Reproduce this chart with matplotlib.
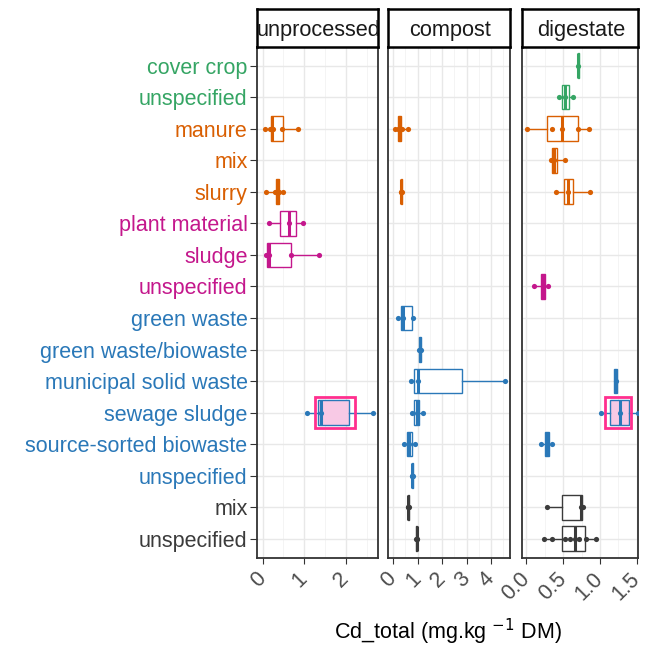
import numpy as np
import matplotlib.pyplot as plt
from matplotlib.patches import Rectangle

plt.rcParams['font.family'] = ['Liberation Sans', 'DejaVu Sans']

#===========================================================#

### Data (rows counted from the top, 1..16)

labels = ["cover crop", "unspecified", "manure", "mix", "slurry",
          "plant material", "sludge", "unspecified", "green waste",
          "green waste/biowaste", "municipal solid waste", "sewage sludge",
          "source-sorted biowaste", "unspecified", "mix", "unspecified"]
groups = ["green", "green", "orange", "orange", "orange",
          "magenta", "magenta", "magenta", "blue",
          "blue", "blue", "blue", "blue", "blue", "black", "black"]
palette = {"green": "#35a564", "orange": "#d95f02", "magenta": "#c4178c",
           "blue": "#2a78b8", "black": "#3b3b3b"}

## unprocessed
unproc_rows = [3, 5, 6, 7, 12]
unproc_q1 = [0.19, 0.33, 0.41, 0.10, 1.33]
unproc_med = [0.22, 0.36, 0.63, 0.14, 1.41]
unproc_q3 = [0.49, 0.40, 0.81, 0.67, 2.07]
unproc_pts = [[0.05, 0.18, 0.22, 0.24, 0.46, 0.84],
              [0.09, 0.29, 0.33, 0.36, 0.40, 0.49],
              [0.15, 0.63, 0.97],
              [0.09, 0.12, 0.15, 0.67, 1.36],
              [1.07, 1.41, 2.66]]

## compost
comp_rows = [3, 5, 9, 10, 11, 12, 13, 14, 15, 16]
comp_q1 = [0.20, 0.32, 0.30, 1.06, 0.86, 0.86, 0.57, 0.76, 0.59, 0.94]
comp_med = [0.27, 0.34, 0.41, 1.09, 1.00, 0.96, 0.66, 0.78, 0.61, 0.96]
comp_q3 = [0.33, 0.36, 0.75, 1.12, 2.80, 1.07, 0.78, 0.80, 0.63, 0.98]
comp_pts = [[0.08, 0.18, 0.27, 0.35, 0.60],
            [0.32, 0.34, 0.36],
            [0.20, 0.41, 0.82],
            [1.06, 1.09, 1.12],
            [0.73, 1.00, 4.58],
            [0.78, 0.96, 1.23],
            [0.45, 0.66, 0.89],
            [0.76, 0.78, 0.80],
            [0.59, 0.61, 0.63],
            [0.94, 0.96, 0.98]]

## digestate
dig_rows = [1, 2, 3, 4, 5, 8, 11, 12, 13, 15, 16]
dig_q1 = [0.70, 0.48, 0.28, 0.355, 0.51, 0.20, 1.19, 1.14, 0.25, 0.49, 0.48]
dig_med = [0.705, 0.53, 0.49, 0.38, 0.57, 0.23, 1.21, 1.27, 0.28, 0.74, 0.66]
dig_q3 = [0.71, 0.58, 0.70, 0.42, 0.64, 0.26, 1.23, 1.39, 0.31, 0.75, 0.795]
dig_pts = [[0.705],
           [0.45, 0.53, 0.63],
           [0.01, 0.35, 0.49, 0.70, 0.85],
           [0.33, 0.38, 0.53],
           [0.40, 0.57, 0.86],
           [0.11, 0.23, 0.29],
           [1.21],
           [1.02, 1.27, 1.51],
           [0.20, 0.28, 0.35],
           [0.28, 0.74, 0.77],
           [0.24, 0.35, 0.53, 0.59, 0.66, 0.72, 0.81, 0.94]]

panel_names = ["unprocessed", "compost", "digestate"]
panel_xlim = [(-0.13, 2.78), (-0.2, 4.78), (-0.06, 1.51)]
panel_ticks = [[0, 1, 2], [0, 1, 2, 3, 4], [0.0, 0.5, 1.0, 1.5]]
panel_ticklabels = [["0", "1", "2"], ["0", "1", "2", "3", "4"],
                    ["0.0", "0.5", "1.0", "1.5"]]

# pink marker drawn round the sewage sludge boxes (panel -> x extent)
highlight_row = 12
highlight_x = {0: (1.25, 2.22), 2: (1.07, 1.42)}

#===========================================================#

W, H = 647, 646
fig = plt.figure(figsize=(W / 100, H / 100), dpi=100)

panel_px = [(257.3, 378.3), (388.3, 510.0), (521.7, 637.7)]
top_px, bottom_px, strip_top_px = 46.7, 557.7, 9.3

data = [(unproc_rows, unproc_q1, unproc_med, unproc_q3, unproc_pts),
        (comp_rows, comp_q1, comp_med, comp_q3, comp_pts),
        (dig_rows, dig_q1, dig_med, dig_q3, dig_pts)]

for i, (l, r) in enumerate(panel_px):
    ax = fig.add_axes([l / W, 1 - bottom_px / H, (r - l) / W, (bottom_px - top_px) / H])
    ax.set_ylim(16.6, 0.4)
    ax.set_xlim(*panel_xlim[i])

    # grid
    ticks = panel_ticks[i]
    step = ticks[1] - ticks[0]
    minor = np.arange(ticks[0] - step / 2, panel_xlim[i][1], step)
    for m in minor:
        ax.axvline(m, color="#f2f2f2", lw=0.6, zorder=0)
    for t in ticks:
        ax.axvline(t, color="#e8e8e8", lw=1.0, zorder=0)
    for k in range(1, 17):
        ax.axhline(k, color="#e8e8e8", lw=1.0, zorder=0)

    rows, q1, med, q3, pts = data[i]
    for j, row in enumerate(rows):
        c = palette[groups[row - 1]]
        lo = min(min(pts[j]), q1[j])
        hi = max(max(pts[j]), q3[j])
        stat = {"q1": q1[j], "med": med[j], "q3": q3[j], "whislo": lo, "whishi": hi}
        hl = (row == highlight_row and i in highlight_x)
        face = "#f8c9e5" if hl else "white"
        ax.bxp([stat], positions=[row], widths=0.78, orientation="horizontal",
               patch_artist=True, showfliers=False, showcaps=False,
               boxprops=dict(facecolor=face, edgecolor=c, lw=1.0),
               medianprops=dict(color=c, lw=2.2),
               whiskerprops=dict(color=c, lw=1.0), manage_ticks=False)
        ax.scatter(pts[j], [row] * len(pts[j]), s=14, color=c, zorder=4, lw=0)
        if hl:
            x0, x1 = highlight_x[i]
            ax.add_patch(Rectangle((x0, row - 0.48), x1 - x0, 0.96,
                                   fill=False, edgecolor="#ff2f8e", lw=2.0, zorder=5))

    ax.set_xticks(ticks)
    ax.set_xticklabels(panel_ticklabels[i], rotation=45, ha="right", va="center",
                       rotation_mode="anchor", fontsize=15.5, color="#4d4d4d")
    ax.tick_params(axis="x", length=4, color="#333333", pad=9)
    ax.set_yticks(range(1, 17))
    if i == 0:
        ax.set_yticklabels(labels, fontsize=15.5)
        for lab, g in zip(ax.get_yticklabels(), groups):
            lab.set_color(palette[g])
        ax.tick_params(axis="y", length=5, color="#333333", pad=2)
    else:
        ax.set_yticklabels([])
        ax.tick_params(axis="y", length=0)
    for s in ax.spines.values():
        s.set_color("#333333")
        s.set_linewidth(1.3)

    # strip
    sax = fig.add_axes([l / W, 1 - top_px / H, (r - l) / W, (top_px - strip_top_px) / H])
    sax.set_xticks([])
    sax.set_yticks([])
    for s in sax.spines.values():
        s.set_color("black")
        s.set_linewidth(1.8)
    sax.text(0.51, 0.44, panel_names[i], ha="center", va="center", fontsize=15.7,
             color="#1a1a1a", transform=sax.transAxes, clip_on=True)

fig.text(448 / W, 1 - 632 / H, r"Cd_total (mg.kg $^{-1}$ DM)", ha="center",
         va="center", fontsize=15.5)

plt.savefig("out.png", dpi=100)
